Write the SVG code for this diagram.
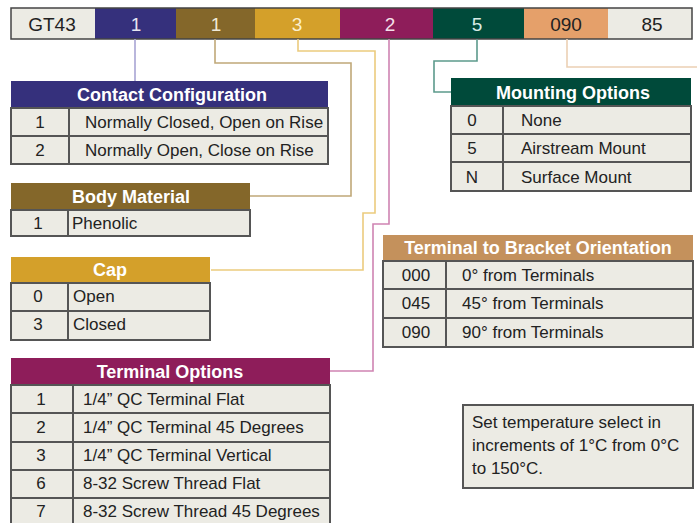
<svg xmlns="http://www.w3.org/2000/svg" width="697" height="523" viewBox="0 0 697 523">
<style>
text{font-family:"Liberation Sans",Arial,sans-serif}
.bar{font-size:19px;text-anchor:middle}
.hd{font-size:18px;font-weight:bold;fill:#fff;text-anchor:middle}
.cell{fill:#ecebe4;stroke:#555;stroke-width:2}
.tx{font-size:17px;fill:#222}
.cd{font-size:17px;fill:#222;text-anchor:middle}
.ln{fill:none;stroke-width:1.6}
</style>
<rect width="697" height="523" fill="#fff"/>
<g id="code-bar">
<rect x="11" y="8" width="84" height="31" fill="#ecebe4"/>
<rect x="95" y="8" width="81" height="31" fill="#35307c"/>
<rect x="176" y="8" width="79" height="31" fill="#84672a"/>
<rect x="255" y="8" width="85" height="31" fill="#d4a02a"/>
<rect x="340" y="8" width="93" height="31" fill="#8e1d5a"/>
<rect x="433" y="8" width="91" height="31" fill="#004a3a"/>
<rect x="524" y="8" width="84" height="31" fill="#e5a06a"/>
<rect x="608" y="8" width="84" height="31" fill="#ecebe4"/>
<rect x="11" y="8" width="681" height="31" fill="none" stroke="#444" stroke-width="1.5"/>
<text class="bar" x="52" y="31" fill="#222">GT43</text>
<text class="bar" x="136" y="31" fill="#e8e6f0">1</text>
<text class="bar" x="216" y="31" fill="#f0ead8">1</text>
<text class="bar" x="297" y="31" fill="#fbf0d0">3</text>
<text class="bar" x="390" y="31" fill="#f5e0ea">2</text>
<text class="bar" x="477" y="31" fill="#d8ece6">5</text>
<text class="bar" x="566" y="31" fill="#222">090</text>
<text class="bar" x="652" y="31" fill="#222">85</text>
</g>
<g id="connectors">
<path class="ln" stroke="#a8a4d4" d="M135 39 V81"/>
<path class="ln" stroke="#c0a878" d="M215 39 V63 H351 V196 H250"/>
<path class="ln" stroke="#ebcb7e" d="M298 39 V51 H375 V213 H363 V270 H211"/>
<path class="ln" stroke="#cf84b2" d="M389 39 V224 H373 V371 H330"/>
<path class="ln" stroke="#5c9a8c" d="M477 39 V61 H434 V92 H452"/>
<path class="ln" stroke="#ecd0b4" d="M567 39 V67 H697"/>
</g>
<g id="contact-configuration">
<rect x="11" y="81" width="317" height="27" fill="#35307c"/>
<text class="hd" x="172" y="101">Contact Configuration</text>
<rect class="cell" x="11" y="108" width="317" height="28"/>
<rect class="cell" x="11" y="136" width="317" height="28"/>
<line x1="69" y1="108" x2="69" y2="164" stroke="#555" stroke-width="2"/>
<text class="cd" x="40" y="128">1</text>
<text class="tx" x="85" y="128">Normally Closed, Open on Rise</text>
<text class="cd" x="40" y="156">2</text>
<text class="tx" x="85" y="156">Normally Open, Close on Rise</text>
</g>
<g id="body-material">
<rect x="11" y="183" width="239" height="27" fill="#84672a"/>
<text class="hd" x="131" y="203">Body Material</text>
<rect class="cell" x="11" y="210" width="239" height="26"/>
<line x1="68" y1="210" x2="68" y2="236" stroke="#555" stroke-width="2"/>
<text class="cd" x="38" y="229">1</text>
<text class="tx" x="72" y="229">Phenolic</text>
</g>
<g id="cap">
<rect x="11" y="257" width="199" height="26" fill="#d4a02a"/>
<text class="hd" x="110" y="276">Cap</text>
<rect class="cell" x="11" y="283" width="199" height="28"/>
<rect class="cell" x="11" y="311" width="199" height="29"/>
<line x1="68" y1="283" x2="68" y2="340" stroke="#555" stroke-width="2"/>
<text class="cd" x="38" y="302">0</text>
<text class="tx" x="73" y="302">Open</text>
<text class="cd" x="38" y="330">3</text>
<text class="tx" x="73" y="330">Closed</text>
</g>
<g id="terminal-options">
<rect x="11" y="358" width="319" height="27" fill="#8e1d5a"/>
<text class="hd" x="170" y="378">Terminal Options</text>
<rect class="cell" x="11" y="385" width="319" height="28"/>
<rect class="cell" x="11" y="413" width="319" height="29"/>
<rect class="cell" x="11" y="442" width="319" height="28"/>
<rect class="cell" x="11" y="470" width="319" height="28"/>
<rect class="cell" x="11" y="498" width="319" height="30"/>
<line x1="73" y1="385" x2="73" y2="523" stroke="#555" stroke-width="2"/>
<text class="cd" x="41" y="405">1</text>
<text class="tx" x="83" y="405">1/4” QC Terminal Flat</text>
<text class="cd" x="41" y="433">2</text>
<text class="tx" x="83" y="433">1/4” QC Terminal 45 Degrees</text>
<text class="cd" x="41" y="461">3</text>
<text class="tx" x="83" y="461">1/4” QC Terminal Vertical</text>
<text class="cd" x="41" y="489">6</text>
<text class="tx" x="83" y="489">8-32 Screw Thread Flat</text>
<text class="cd" x="41" y="517">7</text>
<text class="tx" x="83" y="517">8-32 Screw Thread 45 Degrees</text>
</g>
<g id="mounting-options">
<rect x="451" y="78" width="240" height="28" fill="#004a3a"/>
<text class="hd" x="573" y="99">Mounting Options</text>
<rect class="cell" x="451" y="106" width="240" height="28"/>
<rect class="cell" x="451" y="134" width="240" height="28"/>
<rect class="cell" x="451" y="162" width="240" height="29"/>
<line x1="503" y1="106" x2="503" y2="191" stroke="#555" stroke-width="2"/>
<text class="cd" x="472" y="126">0</text>
<text class="tx" x="521" y="126">None</text>
<text class="cd" x="472" y="154">5</text>
<text class="tx" x="521" y="154">Airstream Mount</text>
<text class="cd" x="472" y="183">N</text>
<text class="tx" x="521" y="183">Surface Mount</text>
</g>
<g id="terminal-bracket-orientation">
<rect x="383" y="235" width="310" height="26" fill="#c4915c"/>
<text class="hd" x="538" y="254">Terminal to Bracket Orientation</text>
<rect class="cell" x="383" y="261" width="310" height="28"/>
<rect class="cell" x="383" y="289" width="310" height="29"/>
<rect class="cell" x="383" y="318" width="310" height="29"/>
<line x1="446" y1="261" x2="446" y2="347" stroke="#555" stroke-width="2"/>
<text class="cd" x="416" y="281">000</text>
<text class="tx" x="462" y="281">0° from Terminals</text>
<text class="cd" x="416" y="309">045</text>
<text class="tx" x="462" y="309">45° from Terminals</text>
<text class="cd" x="416" y="338">090</text>
<text class="tx" x="462" y="338">90° from Terminals</text>
</g>
<g id="temperature-note">
<rect class="cell" x="463" y="405" width="230" height="83"/>
<text class="tx" x="472" y="428">Set temperature select in</text>
<text class="tx" x="472" y="451">increments of 1°C from 0°C</text>
<text class="tx" x="472" y="474">to 150°C.</text>
</g>
</svg>
